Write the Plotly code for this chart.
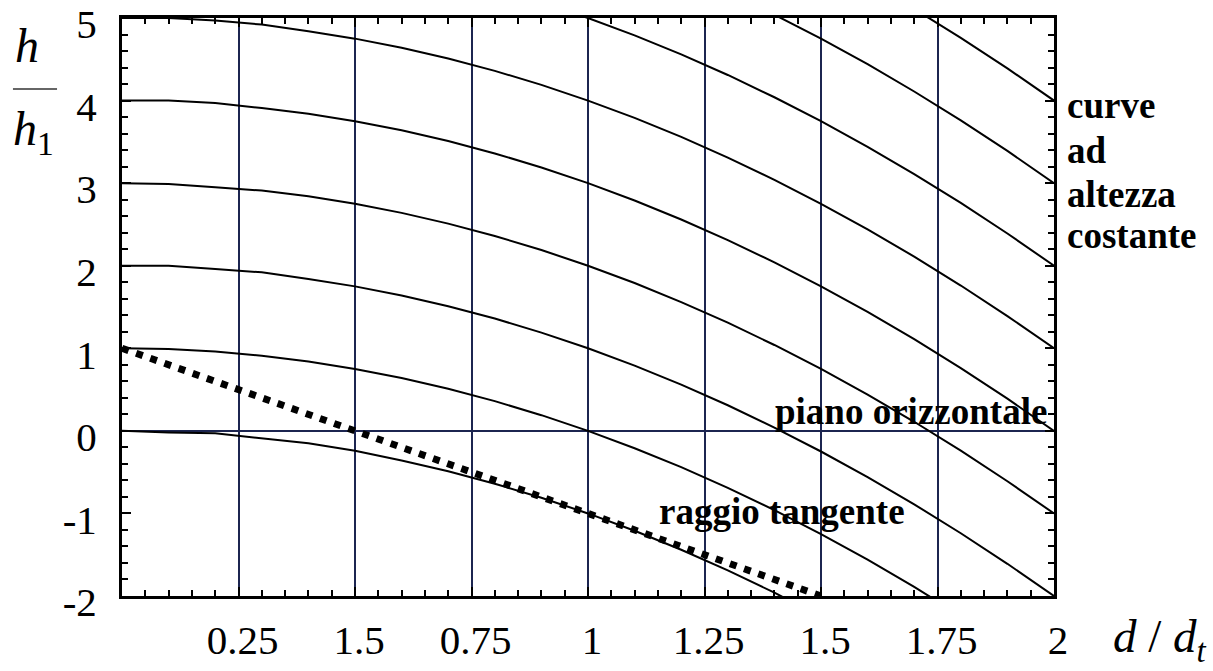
import plotly.graph_objects as go

# ---- data ----
d = [0.0, 0.1, 0.2, 0.3, 0.4, 0.5, 0.6, 0.7, 0.8, 0.9, 1.0,
     1.1, 1.2, 1.3, 1.4, 1.5, 1.6, 1.7, 1.8, 1.9, 2.0]

h_0 = [0.0, -0.02, -0.03, -0.09, -0.15, -0.24, -0.36, -0.49, -0.64, -0.81, -1.0,
       -1.21, -1.44, -1.69, -1.96, -2.25, -2.56, -2.89, -3.24, -3.61, -4.0]
h_1 = [1.0, 0.99, 0.96, 0.91, 0.84, 0.75, 0.64, 0.51, 0.36, 0.19, 0.0,
       -0.21, -0.44, -0.69, -0.96, -1.25, -1.56, -1.89, -2.24, -2.61, -3.0]
h_2 = [2.0, 2.0, 1.96, 1.92, 1.84, 1.75, 1.64, 1.51, 1.36, 1.19, 1.0,
       0.79, 0.56, 0.31, 0.04, -0.25, -0.56, -0.89, -1.24, -1.61, -2.0]
h_3 = [3.0, 2.99, 2.95, 2.91, 2.84, 2.75, 2.64, 2.51, 2.36, 2.19, 2.0,
       1.79, 1.56, 1.31, 1.04, 0.75, 0.44, 0.11, -0.24, -0.61, -1.0]
h_4 = [4.0, 4.0, 3.97, 3.91, 3.84, 3.75, 3.64, 3.51, 3.36, 3.19, 3.0,
       2.79, 2.56, 2.31, 2.04, 1.75, 1.44, 1.11, 0.76, 0.39, 0.0]
h_5 = [5.0, 5.0, 4.97, 4.92, 4.84, 4.75, 4.64, 4.51, 4.36, 4.19, 4.0,
       3.79, 3.56, 3.31, 3.04, 2.75, 2.44, 2.11, 1.76, 1.39, 1.0]
h_6 = [6.0, 5.99, 5.96, 5.91, 5.84, 5.75, 5.64, 5.51, 5.36, 5.19, 5.0,
       4.79, 4.56, 4.31, 4.04, 3.75, 3.44, 3.11, 2.76, 2.39, 2.0]
h_7 = [7.0, 6.99, 6.96, 6.91, 6.84, 6.75, 6.64, 6.51, 6.36, 6.19, 6.0,
       5.79, 5.56, 5.31, 5.04, 4.75, 4.44, 4.11, 3.76, 3.39, 3.0]
h_8 = [8.0, 7.99, 7.96, 7.91, 7.84, 7.75, 7.64, 7.51, 7.36, 7.19, 7.0,
       6.79, 6.56, 6.31, 6.04, 5.75, 5.44, 5.11, 4.76, 4.39, 4.0]

tangent_d = [0.0, 1.5]
tangent_h = [1.0, -2.0]

x_tickvals = [0.25, 0.5, 0.75, 1.0, 1.25, 1.5, 1.75, 2.0]
x_ticktext = ["0.25", "1.5", "0.75", "1", "1.25", "1.5", "1.75", "2"]
y_tickvals = [-2, -1, 0, 1, 2, 3, 4, 5]
y_ticktext = ["-2", "-1", "0", "1", "2", "3", "4", "5"]

FONT = "Liberation Serif"
NAVY = "#1c2550"

fig = go.Figure()
for hv in [h_0, h_1, h_2, h_3, h_4, h_5, h_6, h_7, h_8]:
    fig.add_trace(go.Scatter(x=d, y=hv, mode="lines",
                             line=dict(color="black", width=2),
                             showlegend=False, hoverinfo="skip"))
fig.add_trace(go.Scatter(x=tangent_d, y=tangent_h, mode="lines",
                         line=dict(color="black", width=7, dash="7px,8px"),
                         showlegend=False, hoverinfo="skip"))
# invisible trace on mirrored axes so their ticks get drawn
fig.add_trace(go.Scatter(x=tangent_d, y=tangent_h, xaxis="x2", yaxis="y2",
                         mode="lines", line=dict(width=0), opacity=0,
                         showlegend=False, hoverinfo="skip"))

tickfont = dict(family=FONT, size=41, color="black")
common = dict(showline=True, linecolor="black", linewidth=3, automargin=False,
              ticks="inside", ticklen=9, tickwidth=2, tickcolor="black")

fig.update_layout(
    width=1213, height=671,
    margin=dict(l=122, r=159, t=18, b=75),
    paper_bgcolor="white", plot_bgcolor="white",
    font=dict(family=FONT, color="black", size=38),
    xaxis=dict(range=[0, 2], tickvals=x_tickvals, ticktext=x_ticktext,
               showgrid=True, gridcolor=NAVY, gridwidth=2,
               zeroline=False, ticklabelstandoff=6, ticklabelshift=4,
               tickfont=tickfont, ticklabeloverflow="allow",
               minor=dict(dtick=0.05, tick0=0, ticks="inside", ticklen=6,
                          tickwidth=2, tickcolor="black", showgrid=False),
               **common),
    yaxis=dict(range=[-2, 5], tickvals=y_tickvals, ticktext=y_ticktext,
               showgrid=False, zeroline=True, zerolinecolor=NAVY, zerolinewidth=2,
               ticklabelstandoff=14, ticklabelshift=6, tickfont=tickfont,
               ticklabeloverflow="allow",
               minor=dict(dtick=0.2, tick0=0, ticks="inside", ticklen=6,
                          tickwidth=2, tickcolor="black", showgrid=False),
               **common),
    xaxis2=dict(range=[0, 2], overlaying="x", side="top", matches="x",
                tickvals=x_tickvals, showticklabels=False, showgrid=False,
                zeroline=False,
                minor=dict(dtick=0.05, tick0=0, ticks="inside", ticklen=6,
                           tickwidth=2, tickcolor="black", showgrid=False),
                **common),
    yaxis2=dict(range=[-2, 5], overlaying="y", side="right", matches="y",
                tickvals=y_tickvals, showticklabels=False, showgrid=False,
                zeroline=False,
                minor=dict(dtick=0.2, tick0=0, ticks="inside", ticklen=6,
                           tickwidth=2, tickcolor="black", showgrid=False),
                **common),
)

bold = dict(family=FONT, size=37, color="black")
ann = [
    dict(x=1.99, y=0.24, xref="x", yref="y", text="<b>piano orizzontale</b>",
         xanchor="right", yanchor="middle", font=bold, showarrow=False),
    dict(x=1.148, y=-0.98, xref="x", yref="y", text="<b>raggio tangente</b>",
         xanchor="left", yanchor="middle", font=bold, showarrow=False),
]
for txt, yy in [("curve", 3.94), ("ad", 3.40), ("altezza", 2.86), ("costante", 2.37)]:
    ann.append(dict(x=1.012, y=yy, xref="paper", yref="y", text="<b>%s</b>" % txt,
                    xanchor="left", yanchor="middle", font=bold, showarrow=False))
# y-axis title as fraction h / h1
ann.append(dict(x=-0.102, y=0.952, xref="paper", yref="paper", text="<i>h</i>",
                xanchor="center", yanchor="middle", showarrow=False,
                font=dict(family=FONT, size=48)))
ann.append(dict(x=-0.095, y=0.802, xref="paper", yref="paper",
                text="<i>h</i><sub>1</sub>",
                xanchor="center", yanchor="middle", showarrow=False,
                font=dict(family=FONT, size=48)))
# x-axis title d / d_t
ann.append(dict(x=1.114, y=-0.076, xref="paper", yref="paper",
                text="<i>d</i> / <i>d</i><sub><i>t</i></sub>",
                xanchor="center", yanchor="middle", showarrow=False,
                font=dict(family=FONT, size=47)))
fig.update_layout(annotations=ann)

fig.add_shape(type="line", xref="paper", yref="paper",
              x0=-0.117, x1=-0.0697, y0=0.877, y1=0.877,
              line=dict(color="#666666", width=2))

fig.write_html("out.html", config={"displayModeBar": False},
               post_script="document.body.style.margin='0px';")
